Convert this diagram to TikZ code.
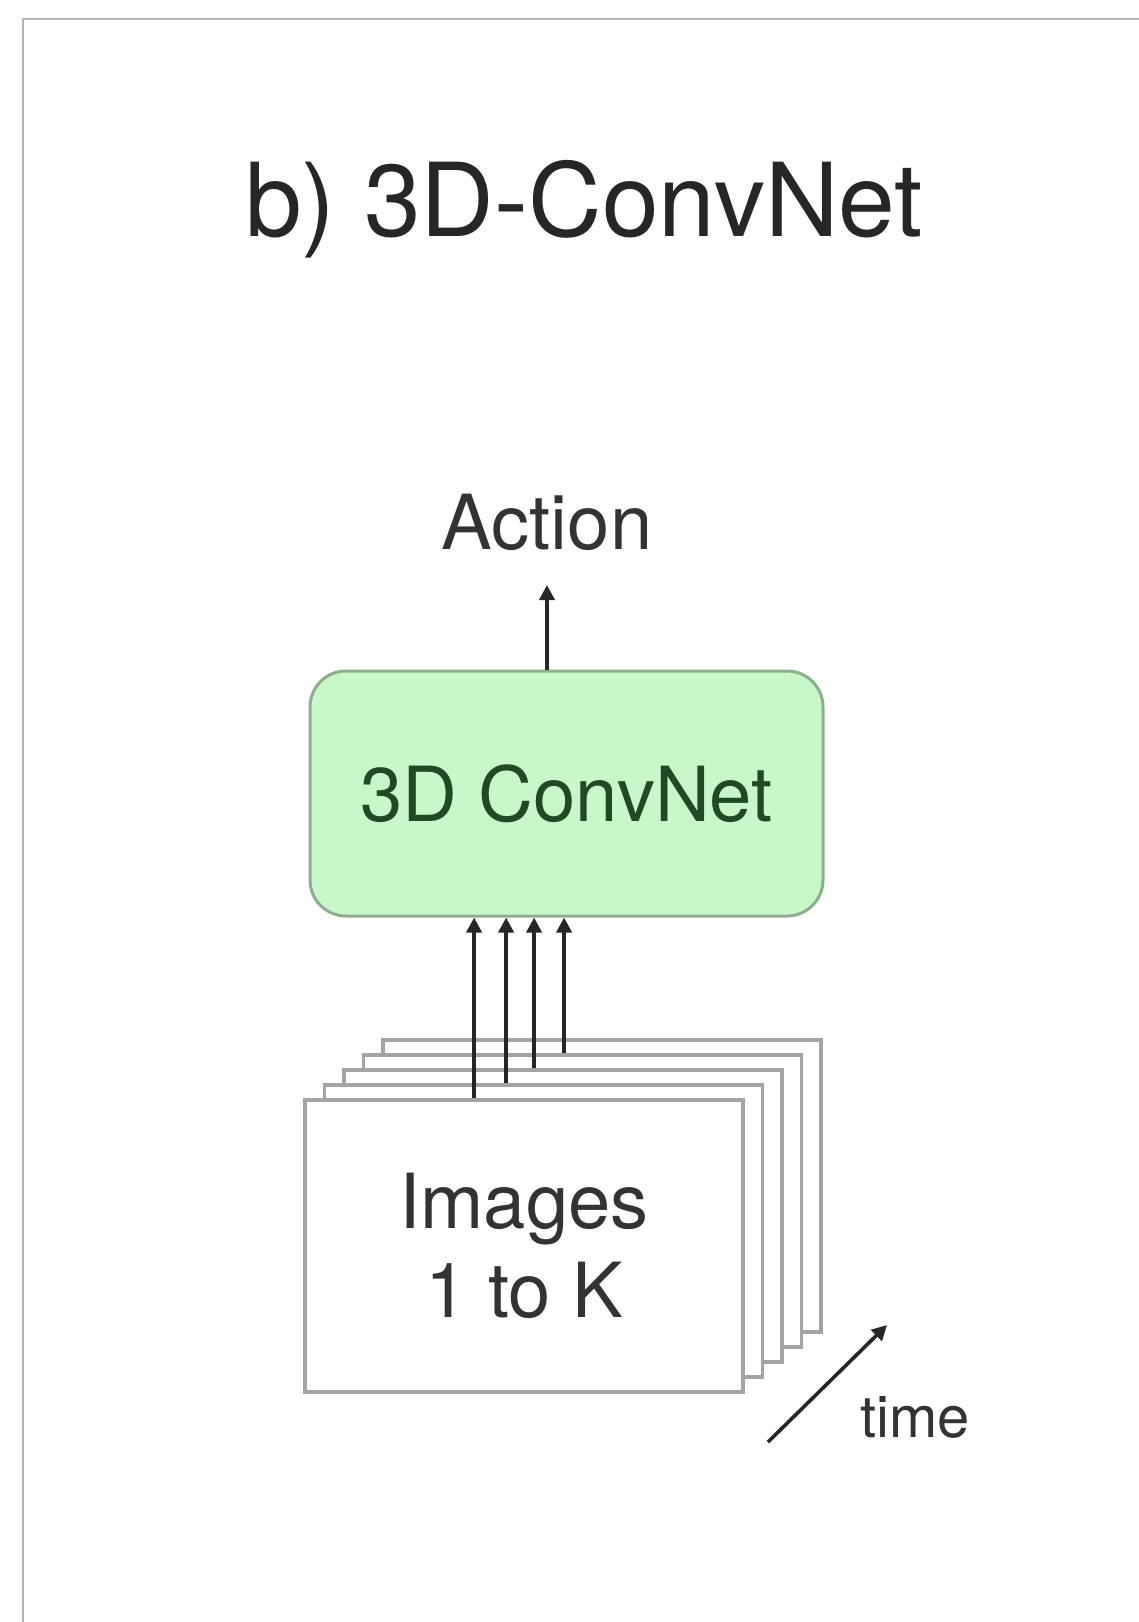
\documentclass[tikz,border=0pt]{standalone}
\usepackage{fontspec}
\setmainfont{TeX Gyre Heros}
\usetikzlibrary{arrows.meta,calc}
\definecolor{framegray}{HTML}{B4B4B4}
\definecolor{stackgray}{HTML}{A4A4A4}
\definecolor{boxfill}{HTML}{C8F7C9}
\definecolor{boxdraw}{HTML}{8EAE8E}
\definecolor{boxtext}{HTML}{1F4A24}
\definecolor{inktext}{HTML}{333333}
\definecolor{titletext}{HTML}{262626}
\begin{document}
\begin{tikzpicture}[x=1pt,y=-1pt,
  sheet/.style={draw=stackgray, fill=white, line width=3.8pt, minimum width=438pt, minimum height=292pt, inner sep=0pt},
  netbox/.style={draw=boxdraw, fill=boxfill, line width=3pt, rounded corners=36pt, minimum width=513pt, minimum height=245pt, inner sep=0pt, text=boxtext, font=\fontsize{76}{90}\selectfont},
  lbl/.style={text=inktext, inner sep=0pt, font=\fontsize{76}{89}\selectfont},
  arr/.style={draw=black!85, line width=3.6pt, -{Triangle[length=15pt,width=15pt]}},
]
\fill[white] (0,0) rectangle (1139,1622);
\useasboundingbox (0,0) rectangle (1139,1622);
% frame
\draw[framegray, line width=2.2pt] (23,1622) -- (23,19) -- (1139,19);
% title
\node[anchor=base, text=titletext, inner sep=0pt, font=\fontsize{102}{112}\selectfont] (title) at (584,236) {b) 3D-ConvNet};
% network box
\node[netbox] (cnn) at (566.5,793.5) {3D ConvNet};
% action
\node[lbl, anchor=base] (act) at (547,549) {Action};
\draw[arr, shorten >=36pt] (cnn.north -| act.base) -- (act.base);
% stack of images
\foreach \k in {4,3,2,1,0} {
  \node[sheet] (img\k) at ({524+19.5*\k},{1246-15*\k}) {};
}
\node[lbl, align=center] (imgtxt) at (img0.center) {Images\\1 to K};
% input arrows
\draw[arr] ($(img0.north west)+(171,0)$) coordinate (s0) -- (s0 |- cnn.south);
\draw[arr] ($(img1.north west)+(183.5,0)$) coordinate (s1) -- (s1 |- cnn.south);
\draw[arr] ($(img2.north west)+(192,0)$) coordinate (s2) -- (s2 |- cnn.south);
\draw[arr] ($(img3.north west)+(202.5,0)$) coordinate (s3) -- (s3 |- cnn.south);
% time
\coordinate (t0) at (768,1442);
\coordinate (t1) at (887,1325);
\draw[arr] (t0) -- (t1);
\node[anchor=base west, text=inktext, inner sep=0pt, font=\fontsize{58}{60}\selectfont] (time) at (860,1437) {time};
\end{tikzpicture}
\end{document}
